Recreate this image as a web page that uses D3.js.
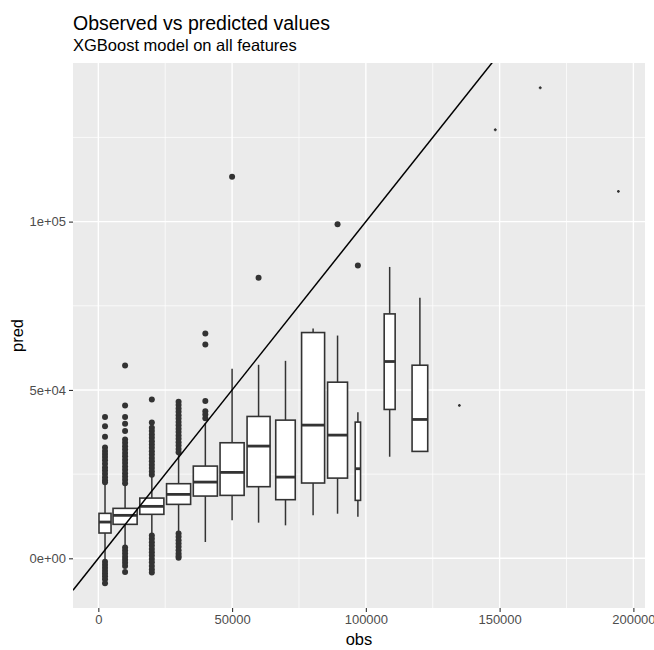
<!DOCTYPE html>
<html>
<head>
<meta charset="utf-8">
<script src="https://cdn.jsdelivr.net/npm/d3@7"></script>
<style>
  body { margin: 0; background: #ffffff; }
  text { font-family: "Liberation Sans", Arial, Helvetica, sans-serif; }
</style>
</head>
<body>
<svg id="chart" width="654" height="650"></svg>
<script>
// Box summaries per observed-value bin (cut_width 10000)
const boxObs    = [2500, 10000, 20000, 30000, 40000, 50000, 59900, 69960, 80280, 89420, 97020, 108900, 120200, 134960, 148380, 165180, 194400];
const boxWidth  = [4500, 9000, 9000, 9000, 9000, 9000, 8600, 7300, 8600, 7450, 2000, 4100, 5850, 450, 450, 450, 450];
const whiskLow  = [-600, 3700, 7200, 8000, 4840, 11270, 10590, 9790, 12760, 13250, 12370, 30170, 31750, 45400, 127280, 139750, 108980];
const boxQ1     = [7510, 10090, 13060, 16020, 18490, 18690, 21270, 17410, 22360, 23820, 17210, 44210, 31750, 45400, 127280, 139750, 108980];
const boxMedian = [10770, 12760, 15430, 18990, 22640, 25520, 33330, 24120, 39560, 36590, 26610, 58450, 41240, 45400, 127280, 139750, 108980];
const boxQ3     = [13350, 14835, 17890, 22160, 27390, 34320, 42130, 41040, 67050, 52310, 40450, 72590, 57350, 45400, 127280, 139750, 108980];
const whiskHigh = [22100, 21800, 24200, 30800, 40200, 56280, 57470, 58650, 68240, 66160, 43410, 86540, 77350, 45400, 127280, 139750, 108980];

// Outlying predictions, listed per bin (index into the box arrays)
const outlierBox = [
  0,0,0,0,0,0,0,0,0,0,0,0,0,0,0,
  0,0,0,0,0,0,0,0,
  1,1,1,1,1,1,1,1,1,1,1,1,1,1,1,1,1,1,1,
  1,1,1,1,1,1,1,1,
  2,2,2,2,2,2,2,2,2,2,2,2,2,2,2,2,2,
  2,2,2,2,2,2,2,2,2,2,2,2,
  3,3,3,3,3,3,3,3,3,3,3,3,3,3,3,3,
  3,3,3,3,3,3,3,3,3,
  4,4,4,4,4,4,
  5, 6, 9, 10
];
const outlierPred = [
  42000, 39200, 36100, 32900, 31900, 31000, 30100, 29100, 28100, 27000, 26100, 25100, 24100, 23200, 22600,
  -1000, -1900, -2800, -3700, -4500, -5300, -6200, -7400,
  57300, 45400, 42000, 40000, 37800, 35300, 34300, 33300, 32300, 31300, 30300, 29300, 28300, 27300, 26300, 25300, 24300, 23300, 22300,
  3200, 2300, 1400, 500, -400, -1300, -2300, -4100,
  47200, 40300, 38800, 37800, 36800, 35800, 34800, 33800, 32800, 31800, 30800, 29800, 28800, 27800, 26800, 25800, 24800,
  6800, 5800, 4800, 3800, 2800, 1800, 800, -200, -1200, -2300, -3300, -4200,
  46500, 45500, 44500, 43500, 42500, 41500, 40500, 39500, 38500, 37500, 36500, 35500, 34500, 33500, 32500, 31500,
  7400, 6400, 5400, 4400, 3400, 2400, 1400, 700, 200,
  66800, 63500, 46700, 43700, 42700, 41600,
  113340, 83300, 99190, 86930
];

const xTicks = [0, 50000, 100000, 150000, 200000];
const xTickLabels = ["0", "50000", "100000", "150000", "200000"];
const xMinor = [25000, 75000, 125000, 175000];
const yTicks = [0, 50000, 100000];
const yTickLabels = ["0e+00", "5e+04", "1e+05"];
const yMinor = [25000, 75000, 125000];

const titleText = "Observed vs predicted values";
const subtitleText = "XGBoost model on all features";
const xTitle = "obs";
const yTitle = "pred";

// ---- layout ----
const svg = d3.select("#chart");
const panel = { left: 73, right: 645, top: 63, bottom: 608 };

const boxes = boxObs.map((x, i) => ({
  x, w: boxWidth[i], lo: whiskLow[i], q1: boxQ1[i], med: boxMedian[i], q3: boxQ3[i], hi: whiskHigh[i]
}));
const outliers = outlierPred.map((y, i) => ({ x: boxObs[outlierBox[i]], y }));

function expand([a, b], m = 0.05) { const r = b - a; return [a - r * m, b + r * m]; }

const xExt = [d3.min(boxes, d => d.x - d.w / 2), d3.max(boxes, d => d.x + d.w / 2)];
const yExt = [Math.min(d3.min(boxes, d => d.lo), d3.min(outliers, d => d.y)),
              Math.max(d3.max(boxes, d => d.hi), d3.max(outliers, d => d.y))];

const x = d3.scaleLinear().domain(expand(xExt)).range([panel.left, panel.right]);
const y = d3.scaleLinear().domain(expand(yExt)).range([panel.bottom, panel.top]);

// panel background
svg.append("rect")
  .attr("x", panel.left).attr("y", panel.top)
  .attr("width", panel.right - panel.left).attr("height", panel.bottom - panel.top)
  .attr("fill", "#EBEBEB");

const grid = svg.append("g");
grid.selectAll(".xminor").data(xMinor).join("line")
  .attr("x1", d => x(d)).attr("x2", d => x(d)).attr("y1", panel.top).attr("y2", panel.bottom)
  .attr("stroke", "#ffffff").attr("stroke-width", 0.7);
grid.selectAll(".yminor").data(yMinor).join("line")
  .attr("y1", d => y(d)).attr("y2", d => y(d)).attr("x1", panel.left).attr("x2", panel.right)
  .attr("stroke", "#ffffff").attr("stroke-width", 0.7);
grid.selectAll(".xmajor").data(xTicks).join("line")
  .attr("x1", d => x(d)).attr("x2", d => x(d)).attr("y1", panel.top).attr("y2", panel.bottom)
  .attr("stroke", "#ffffff").attr("stroke-width", 1.4);
grid.selectAll(".ymajor").data(yTicks).join("line")
  .attr("y1", d => y(d)).attr("y2", d => y(d)).attr("x1", panel.left).attr("x2", panel.right)
  .attr("stroke", "#ffffff").attr("stroke-width", 1.4);

svg.append("clipPath").attr("id", "panelClip").append("rect")
  .attr("x", panel.left).attr("y", panel.top)
  .attr("width", panel.right - panel.left).attr("height", panel.bottom - panel.top);

const plot = svg.append("g").attr("clip-path", "url(#panelClip)");
const ink = "#333333";

// outlier points
plot.append("g").selectAll("circle").data(outliers).join("circle")
  .attr("cx", d => x(d.x)).attr("cy", d => y(d.y)).attr("r", 3)
  .attr("fill", ink);

// whiskers
const bx = plot.append("g");
bx.selectAll(".wu").data(boxes).join("line")
  .attr("x1", d => x(d.x)).attr("x2", d => x(d.x))
  .attr("y1", d => y(d.q3)).attr("y2", d => y(d.hi))
  .attr("stroke", ink).attr("stroke-width", 1.5);
bx.selectAll(".wl").data(boxes).join("line")
  .attr("x1", d => x(d.x)).attr("x2", d => x(d.x))
  .attr("y1", d => y(d.q1)).attr("y2", d => y(d.lo))
  .attr("stroke", ink).attr("stroke-width", 1.5);
// boxes
bx.selectAll(".bx").data(boxes).join("rect")
  .attr("x", d => x(d.x - d.w / 2)).attr("width", d => x(d.x + d.w / 2) - x(d.x - d.w / 2))
  .attr("y", d => y(d.q3)).attr("height", d => Math.max(0.01, y(d.q1) - y(d.q3)))
  .attr("fill", "#ffffff").attr("stroke", ink).attr("stroke-width", 1.6);
// medians
bx.selectAll(".md").data(boxes).join("line")
  .attr("x1", d => x(d.x - d.w / 2)).attr("x2", d => x(d.x + d.w / 2))
  .attr("y1", d => y(d.med)).attr("y2", d => y(d.med))
  .attr("stroke", ink).attr("stroke-width", 2.8);

// identity reference line (pred = obs)
const [dx0, dx1] = x.domain();
plot.append("line")
  .attr("x1", x(dx0)).attr("y1", y(dx0))
  .attr("x2", x(dx1)).attr("y2", y(dx1))
  .attr("stroke", "#000000").attr("stroke-width", 1.5);

// axes
const xAxis = svg.append("g").attr("transform", `translate(0,${panel.bottom})`)
  .call(d3.axisBottom(x).tickValues(xTicks).tickFormat((d, i) => xTickLabels[i]).tickSize(4).tickPadding(3));
const yAxis = svg.append("g").attr("transform", `translate(${panel.left},0)`)
  .call(d3.axisLeft(y).tickValues(yTicks).tickFormat((d, i) => yTickLabels[i]).tickSize(4).tickPadding(3));
[xAxis, yAxis].forEach(a => {
  a.select(".domain").remove();
  a.selectAll(".tick line").attr("stroke", ink).attr("stroke-width", 1.1);
  a.selectAll(".tick text").attr("fill", "#4D4D4D").attr("font-size", 13)
    .attr("font-family", "'Liberation Sans', Arial, sans-serif");
});

// titles
svg.append("text").attr("x", panel.left).attr("y", 30)
  .attr("font-size", 19.5).attr("fill", "#000").text(titleText);
svg.append("text").attr("x", panel.left).attr("y", 51)
  .attr("font-size", 16.5).attr("fill", "#000").text(subtitleText);
svg.append("text").attr("x", (panel.left + panel.right) / 2).attr("y", 645)
  .attr("text-anchor", "middle").attr("font-size", 16.5).attr("fill", "#000").text(xTitle);
svg.append("text")
  .attr("transform", `translate(23,${(panel.top + panel.bottom) / 2}) rotate(-90)`)
  .attr("text-anchor", "middle").attr("font-size", 16.5).attr("fill", "#000").text(yTitle);
</script>
</body>
</html>
